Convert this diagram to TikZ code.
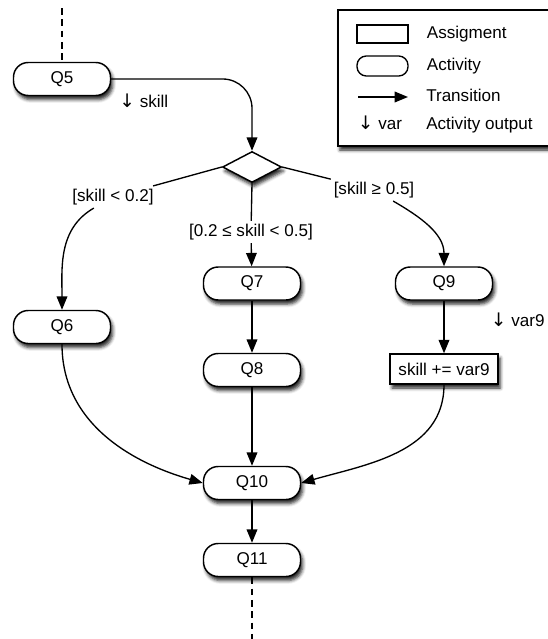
\documentclass[tikz,border=0pt]{standalone}
\usepackage{fontspec}
\setmainfont{Liberation Sans}
\newfontfamily\arrowfont{DejaVu Sans}
\usepackage{tikz}
\usetikzlibrary{arrows.meta,positioning,shapes.geometric,shadows.blur}
\newcommand{\outarrow}{{\arrowfont\fontsize{14pt}{15pt}\selectfont ↓}}
\tikzset{
  softshadow/.style={blur shadow={shadow xshift=1.6pt,shadow yshift=-3pt,
    shadow blur radius=2.5pt,shadow opacity=85}},
  activity/.style={draw=black,line width=1.1pt,fill=white,rounded corners=11pt,
    minimum width=72.75pt,minimum height=24.75pt,inner sep=2pt,softshadow},
  assignbox/.style={draw=black,line width=1.1pt,fill=white,
    minimum width=81pt,minimum height=22.5pt,inner sep=2pt,softshadow},
  decision/.style={diamond,draw=black,line width=1.1pt,fill=white,inner sep=0pt,
    minimum width=44.25pt,minimum height=23.25pt,softshadow},
  flow/.style={-{Triangle[length=10pt,width=8pt]},line width=1pt},
  dashedlink/.style={line width=1pt,dash pattern=on 5pt off 3.5pt},
  guardtext/.style={inner sep=2pt,text height=9.5pt,text depth=2.7pt},
  outputtext/.style={inner sep=2pt,anchor=west,text height=9.5pt,text depth=2.7pt},
  legendframe/.style={draw=black,line width=1.1pt,fill=white,
    minimum width=169pt,minimum height=102pt,softshadow},
  legendtext/.style={inner sep=2pt,text height=9.5pt,text depth=2.7pt}
}

\begin{document}
\begin{tikzpicture}[x=0.75pt,y=-0.75pt,font=\fontsize{12.8pt}{15pt}\selectfont]
  \useasboundingbox (0,0) rectangle (547,639);

  % legend
  \node[legendframe] (legend) at (450.5,78) {};
  \node[draw=black,line width=1pt,minimum width=38.25pt,minimum height=13.5pt,
    inner sep=0pt] (lgAssign) at (382.5,34) {};
  \node[draw=black,line width=1pt,rounded corners=7pt,minimum width=38.25pt,
    minimum height=15pt,inner sep=0pt] (lgAct) at (382.5,66) {};
  \coordinate (lgFrom) at (358,97);
  \coordinate (lgTo) at (408,97);
  \draw[flow] (lgFrom) -- (lgTo);
  \node[legendtext,anchor=west] (lgVar) at (355,125) {\outarrow\ var};
  \node[legendtext,right=11.5pt of lgAssign] (lgAssignTxt) {Assigment};
  \node[legendtext,right=11.5pt of lgAct] (lgActTxt) {Activity};
  \node[legendtext,right=11.5pt of lgTo] (lgTransTxt) {Transition};
  \node[legendtext,anchor=west] (lgOutTxt) at (lgTransTxt.west |- lgVar) {Activity output};

  % activities
  \node[activity] (q5) at (62,79) {Q5};
  \node[decision] (dec) at (252,167) {};
  \node[activity] (q6) at (62,327) {Q6};
  \node[activity] (q7) at (252,283.5) {Q7};
  \node[activity] (q9) at (444,283.5) {Q9};
  \node[activity] (q8) at (252,370) {Q8};
  \node[assignbox] (assign) at (444,369) {skill += var9};
  \node[activity] (q10) at (252,483) {Q10};
  \node[activity] (q11) at (252,560) {Q11};

  % guards and outputs
  \node[guardtext] (lblA) at (113,197) {[skill < 0.2]};
  \node[guardtext] (lblB) at (251,232) {[0.2 ≤ skill < 0.5]};
  \node[guardtext] (lblC) at (374,190) {[skill ≥ 0.5]};
  \node[outputtext] (outSkill) at (116.5,103) {\outarrow\ skill};
  \node[outputtext] (outVar) at (488,322) {\outarrow\ var9};

  % transitions
  \coordinate (start) at (62,8);
  \coordinate (finish) at (252,639);
  \draw[dashedlink] (start) -- (q5);
  \draw[flow,rounded corners=22pt] (q5.east) -| (dec.north);
  \draw[flow] (dec.west) -- (lblA) to[out=210,in=90] (q6);
  \draw[flow] (dec.south) -- (lblB) -- (q7);
  \draw[flow] (dec.east) -- (lblC) to[out=-30,in=90] (q9);
  \draw[flow] (q7) -- (q8);
  \draw[flow] (q9) -- (assign);
  \draw[flow] (q6.south) to[out=-90,in=164] (q10.west);
  \draw[flow] (q8) -- (q10);
  \draw[flow] (assign.south) to[out=-90,in=16] (q10.east);
  \draw[flow] (q10) -- (q11);
  \draw[dashedlink] (q11) -- (finish);
\end{tikzpicture}
\end{document}
